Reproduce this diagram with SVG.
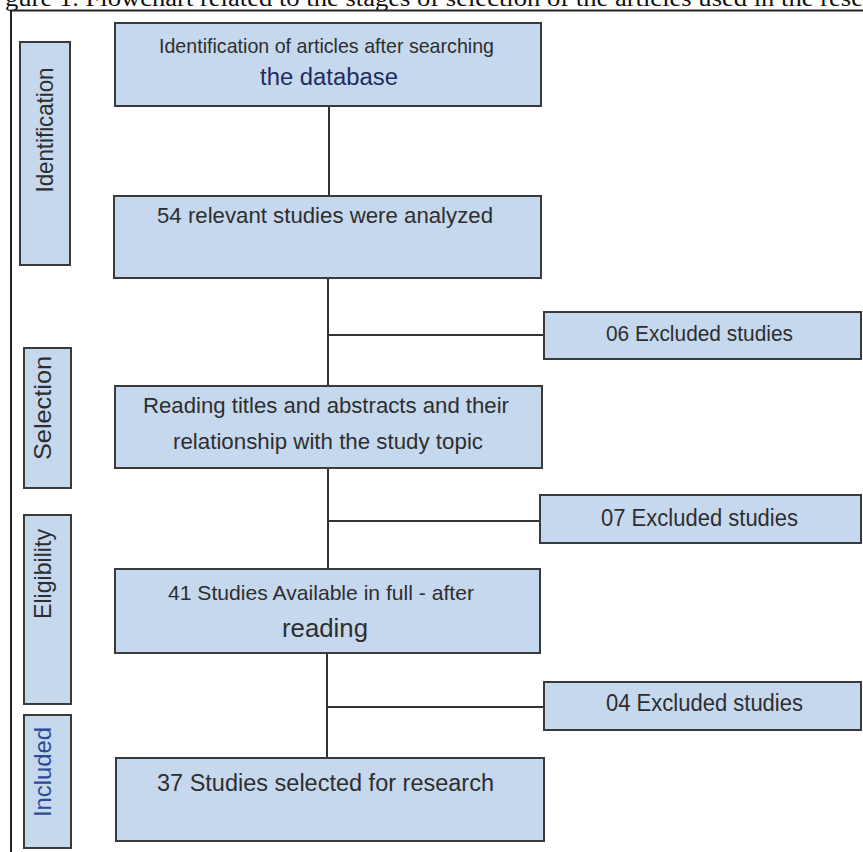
<svg xmlns="http://www.w3.org/2000/svg" width="863" height="852" viewBox="0 0 863 852">
<style>
.box{fill:#c6d8ee;stroke:#3a3a3a;stroke-width:2}
.t{font-family:"Liberation Sans",Arial,sans-serif;fill:#2e2e2e}
.c{stroke:#333;stroke-width:2;fill:none}
.cap{font-family:"Liberation Serif","Times New Roman",serif;fill:#111}
</style>
<rect width="863" height="852" fill="#ffffff"/>
<text class="cap" x="5" y="6" font-size="23" textLength="858" lengthAdjust="spacingAndGlyphs">gure 1. Flowchart related to the stages of selection of the articles used in the rese</text>
<path d="M11,852 V10.5 H863" fill="none" stroke="#222" stroke-width="2"/>
<g id="connectors">
<line class="c" x1="329" y1="106" x2="329" y2="196"/>
<line class="c" x1="328" y1="278" x2="328" y2="386"/>
<line class="c" x1="328" y1="468" x2="328" y2="569"/>
<line class="c" x1="327" y1="653" x2="327" y2="758"/>
<line class="c" x1="328" y1="335" x2="544" y2="335"/>
<line class="c" x1="328" y1="521" x2="540" y2="521"/>
<line class="c" x1="327" y1="707" x2="544" y2="707"/>
</g>
<g id="label-identification">
<rect class="box" x="20" y="42" width="50" height="223"/>
<text class="t" transform="translate(53,130) rotate(-90)" x="-62.5" y="0" font-size="24" textLength="125" lengthAdjust="spacingAndGlyphs">Identification</text>
</g>
<g id="label-selection">
<rect class="box" x="24" y="348" width="47" height="140"/>
<text class="t" transform="translate(51,408) rotate(-90)" x="-52" y="0" font-size="24" textLength="104" lengthAdjust="spacingAndGlyphs">Selection</text>
</g>
<g id="label-eligibility">
<rect class="box" x="24" y="515" width="47" height="189"/>
<text class="t" transform="translate(51,574) rotate(-90)" x="-45" y="0" font-size="24" textLength="90" lengthAdjust="spacingAndGlyphs">Eligibility</text>
</g>
<g id="label-included">
<rect class="box" x="24" y="715" width="47" height="133"/>
<text class="t" transform="translate(51,772) rotate(-90)" x="-45" y="0" font-size="24" textLength="90" lengthAdjust="spacingAndGlyphs" style="fill:#2b4a98">Included</text>
</g>
<g id="node-identification">
<rect class="box" x="115" y="23" width="426" height="83"/>
<text class="t" x="159" y="53" font-size="21" textLength="335" lengthAdjust="spacingAndGlyphs">Identification of articles after searching</text>
<text class="t" x="260" y="85" font-size="23" textLength="138" lengthAdjust="spacingAndGlyphs" style="fill:#1f2c5e">the database</text>
</g>
<g id="node-analyzed">
<rect class="box" x="114" y="196" width="427" height="82"/>
<text class="t" x="157" y="223" font-size="22" textLength="336" lengthAdjust="spacingAndGlyphs">54 relevant studies were analyzed</text>
</g>
<g id="node-excluded-06">
<rect class="box" x="544" y="312" width="317" height="47"/>
<text class="t" x="606" y="341" font-size="22" textLength="187" lengthAdjust="spacingAndGlyphs">06 Excluded studies</text>
</g>
<g id="node-reading">
<rect class="box" x="115" y="386" width="427" height="82"/>
<text class="t" x="143" y="413" font-size="22" textLength="366" lengthAdjust="spacingAndGlyphs">Reading titles and abstracts and their</text>
<text class="t" x="173" y="449" font-size="22" textLength="310" lengthAdjust="spacingAndGlyphs">relationship with the study topic</text>
</g>
<g id="node-excluded-07">
<rect class="box" x="540" y="495" width="321" height="48"/>
<text class="t" x="601" y="526" font-size="23" textLength="197" lengthAdjust="spacingAndGlyphs">07 Excluded studies</text>
</g>
<g id="node-available">
<rect class="box" x="115" y="569" width="425" height="84"/>
<text class="t" x="168" y="600" font-size="21" textLength="306" lengthAdjust="spacingAndGlyphs">41 Studies Available in full - after</text>
<text class="t" x="282" y="637" font-size="26" textLength="86" lengthAdjust="spacingAndGlyphs">reading</text>
</g>
<g id="node-excluded-04">
<rect class="box" x="544" y="682" width="317" height="48"/>
<text class="t" x="606" y="711" font-size="23" textLength="197" lengthAdjust="spacingAndGlyphs">04 Excluded studies</text>
</g>
<g id="node-selected">
<rect class="box" x="116" y="758" width="428" height="83"/>
<text class="t" x="157" y="791" font-size="23" textLength="337" lengthAdjust="spacingAndGlyphs">37 Studies selected for research</text>
</g>
</svg>
